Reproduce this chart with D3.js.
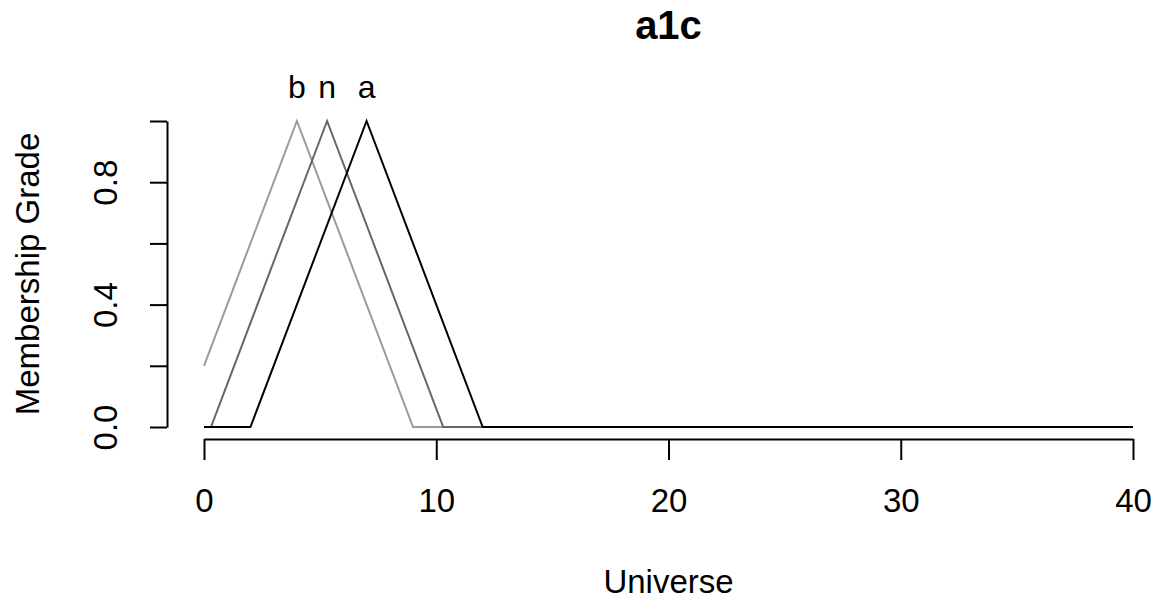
<!DOCTYPE html>
<html>
<head>
<meta charset="utf-8">
<script src="https://cdn.jsdelivr.net/npm/d3@7"></script>
<style>
  body { margin: 0; background: #fff; }
  svg text { font-family: "Liberation Sans", Arial, sans-serif; fill: #000; }
</style>
</head>
<body>
<div class="chartDiv"></div>
<script>
"use strict";

// fuzzy sets: [universe, membership]
var setNames = ["b", "n", "a"];
var setB = [[0, 0.2], [4, 1], [9, 0], [40, 0]];
var setN = [[0, 0], [0.3, 0], [5.3, 1], [10.3, 0], [40, 0]];
var setA = [[0, 0], [2, 0], [7, 1], [12, 0], [40, 0]];
var peaks = [4, 5.3, 7];

var xTicks = [0, 10, 20, 30, 40];
var yTicks = [0, 0.2, 0.4, 0.6, 0.8, 1];
var yLabelled = [0, 0.4, 0.8];

var colours = ["#9a9a9a", "#666666", "#000000"];

var width = 1170, height = 601;

var svg = d3.select(".chartDiv").append("svg")
    .attr("width", width)
    .attr("height", height);

var x = d3.scaleLinear().domain([0, 40]).range([204, 1133]);
var y = d3.scaleLinear().domain([0, 1]).range([427, 121]);

var valueline = d3.line()
    .x(function(d) { return x(d[0]); })
    .y(function(d) { return y(d[1]); });

// lines, a drawn last so it sits on top
[setB, setN, setA].forEach(function(s, i) {
  svg.append("path")
      .attr("fill", "none")
      .attr("stroke", colours[i])
      .attr("stroke-width", 2)
      .attr("d", valueline(s));
});

// set names above the peaks
svg.selectAll(".setLabel")
    .data(setNames)
  .enter().append("text")
    .attr("class", "setLabel")
    .attr("x", function(d, i) { return x(peaks[i]); })
    .attr("y", 98)
    .attr("text-anchor", "middle")
    .style("font-size", "32px")
    .text(function(d) { return d; });

// x axis
var gx = svg.append("g")
    .attr("transform", "translate(0,439)")
    .call(d3.axisBottom(x).tickValues(xTicks).tickSize(21).tickSizeOuter(0).tickPadding(29));
gx.selectAll("text").style("font-size", "33px");

// y axis
var gy = svg.append("g")
    .attr("transform", "translate(167,0)")
    .call(d3.axisLeft(y).tickValues(yTicks).tickSize(17).tickSizeOuter(0)
      .tickFormat(function(d) { return yLabelled.indexOf(d) >= 0 ? d3.format(".1f")(d) : ""; }));
gy.selectAll("text")
    .attr("x", null)
    .attr("dy", null)
    .attr("text-anchor", "middle")
    .attr("transform", "translate(-50,0) rotate(-90)")
    .style("font-size", "33px");

[gx, gy].forEach(function(g) {
  g.select(".domain").attr("stroke", "#000").attr("stroke-width", 2);
  g.selectAll(".tick line").attr("stroke", "#000").attr("stroke-width", 2);
});

// title and axis titles
svg.append("text")
    .attr("x", (x(0) + x(40)) / 2)
    .attr("y", 39)
    .attr("text-anchor", "middle")
    .style("font-size", "40px")
    .style("font-weight", "bold")
    .text("a1c");

svg.append("text")
    .attr("x", (x(0) + x(40)) / 2)
    .attr("y", 593)
    .attr("text-anchor", "middle")
    .style("font-size", "33px")
    .text("Universe");

svg.append("text")
    .attr("transform", "translate(39," + ((y(0) + y(1)) / 2) + ") rotate(-90)")
    .attr("text-anchor", "middle")
    .style("font-size", "33px")
    .text("Membership Grade");
</script>
</body>
</html>
